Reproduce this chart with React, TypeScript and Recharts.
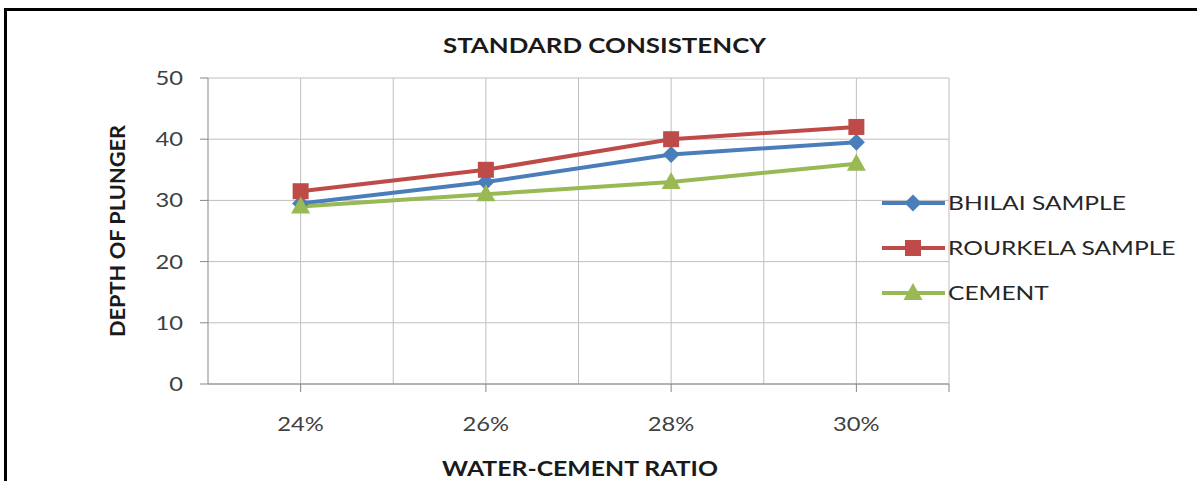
import React from 'react';
import { LineChart, Line, XAxis, YAxis, CartesianGrid, Legend } from 'recharts';

const categories = ['24%', '26%', '28%', '30%'];
const categoryPositions = [1, 3, 5, 7];
const bhilai = [29.5, 33, 37.5, 39.5];
const rourkela = [31.5, 35, 40, 42];
const cement = [29, 31, 33, 36];
const seriesNames = ['BHILAI SAMPLE', 'ROURKELA SAMPLE', 'CEMENT'];
const yTicks = [0, 10, 20, 30, 40, 50];
const xTicks = [1, 3, 5, 7, 8];
const xGrid = [1, 2, 3, 4, 5, 6, 7, 8];
const chartTitle = 'STANDARD CONSISTENCY';
const xTitle = 'WATER-CEMENT RATIO';
const yTitle = 'DEPTH OF PLUNGER';

const data = categories.map((c, i) => ({
  pos: categoryPositions[i],
  label: c,
  bhilai: bhilai[i],
  rourkela: rourkela[i],
  cement: cement[i],
}));

const COLORS = { bhilai: '#4a7ebb', rourkela: '#be4b48', cement: '#98b954' };
const FONT = 'Lato, "Open Sans", sans-serif';
const SX = 1.25;

const diamond = (cx: number, cy: number, r = 8.5) =>
  `M${cx},${cy - r}L${cx + r},${cy}L${cx},${cy + r}L${cx - r},${cy}Z`;
const square = (cx: number, cy: number, r = 8) =>
  `M${cx - r},${cy - r}H${cx + r}V${cy + r}H${cx - r}Z`;
const triangle = (cx: number, cy: number) =>
  `M${cx},${cy - 10}L${cx + 9.5},${cy + 7}L${cx - 9.5},${cy + 7}Z`;

const makeDot = (shape: (cx: number, cy: number) => string, color: string, name: string) =>
  (props: any) => {
    const { cx, cy, index } = props;
    if (cx == null || cy == null) return <g key={`${name}-${index}`} />;
    return <path key={`${name}-${index}`} d={shape(cx, cy)} fill={color} stroke="none" />;
  };

const labelFor = (v: number) => {
  const i = categoryPositions.indexOf(v);
  return i >= 0 ? categories[i] : '';
};

const XTick = (props: any) => {
  const { x, y, payload } = props;
  const txt = labelFor(payload.value);
  return (
    <g transform={`translate(${x},${y + 37})`}>
      <text transform={`scale(${SX},1)`} textAnchor="middle" fontFamily={FONT} fontSize={19} fill="#404040">
        {txt}
      </text>
    </g>
  );
};

const YTick = (props: any) => {
  const { x, y, payload } = props;
  return (
    <g transform={`translate(${x},${y + 7})`}>
      <text transform={`scale(${SX},1)`} textAnchor="end" fontFamily={FONT} fontSize={19} fill="#404040">
        {payload.value}
      </text>
    </g>
  );
};

const legendItems = [
  { name: seriesNames[0], color: COLORS.bhilai, shape: diamond },
  { name: seriesNames[1], color: COLORS.rourkela, shape: square },
  { name: seriesNames[2], color: COLORS.cement, shape: triangle },
];

const LegendContent = () => (
  <svg width={316} height={140} style={{ display: 'block', overflow: 'visible' }}>
    {legendItems.map((it, i) => {
      const cy = 23 + i * 45;
      return (
        <g key={it.name}>
          <line x1={2} y1={cy} x2={65} y2={cy} stroke={it.color} strokeWidth={4} />
          <path d={it.shape(33, cy)} fill={it.color} />
          <g transform={`translate(68,${cy + 7})`}>
            <text transform={`scale(1.26,1)`} fontFamily={FONT} fontSize={19.5} fill="#262626">
              {it.name}
            </text>
          </g>
        </g>
      );
    })}
  </svg>
);

const gridGen = (props: any) => {
  const s = props?.xAxis?.scale;
  const off = props?.offset ?? { left: 208, width: 741 };
  return xGrid.map((v) => (typeof s === 'function' ? s(v) : off.left + (v / 8) * off.width));
};

export default function App() {
  return (
    <div style={{ position: 'absolute', left: 0, top: 0, width: 1197, height: 481, overflow: 'hidden', background: '#fff' }}>
      <div
        style={{
          position: 'absolute',
          left: 4,
          top: 8,
          width: 1300,
          height: 600,
          border: '3px solid #000',
          boxSizing: 'border-box',
        }}
      />
      <div style={{ position: 'absolute', left: 0, top: 0 }}>
        <LineChart width={1197} height={481} data={data} margin={{ top: 78, right: 248, bottom: 37, left: 148 }}>
          <CartesianGrid stroke="#bfbfbf" strokeWidth={1} verticalCoordinatesGenerator={gridGen} />
          <XAxis
            dataKey="pos"
            type="number"
            domain={[0, 8]}
            ticks={xTicks}
            interval={0}
            height={60}
            axisLine={{ stroke: '#868686' }}
            tickLine={{ stroke: '#868686' }}
            tickSize={8}
            tickMargin={2}
            tick={<XTick />}
            label={{
              content: () => (
                <text
                  x={442}
                  y={476}
                  textLength={276}
                  lengthAdjust="spacingAndGlyphs"
                  fontFamily={FONT}
                  fontWeight={700}
                  fontSize={21}
                  fill="#1a1a1a"
                >
                  {xTitle}
                </text>
              ),
            }}
          />
          <YAxis
            type="number"
            domain={[0, 50]}
            ticks={yTicks}
            interval={0}
            width={60}
            axisLine={{ stroke: '#868686' }}
            tickLine={{ stroke: '#868686' }}
            tickSize={8}
            tickMargin={17}
            tick={<YTick />}
            label={{
              content: () => (
                <text
                  x={118}
                  y={231}
                  transform="rotate(-90,118,231)"
                  textAnchor="middle"
                  fontFamily={FONT}
                  fontWeight={700}
                  fontSize={21}
                  fill="#1a1a1a"
                >
                  <tspan x={118} y={238} textLength={212} lengthAdjust="spacingAndGlyphs">{yTitle}</tspan>
                </text>
              ),
            }}
          />
          <Legend
            layout="vertical"
            align="center"
            verticalAlign="middle"
            content={<LegendContent />}
            wrapperStyle={{ position: 'absolute', left: 880, top: 180, width: 316, height: 140 }}
          />
          <Line
            dataKey="bhilai"
            name={seriesNames[0]}
            stroke={COLORS.bhilai}
            strokeWidth={4}
            dot={makeDot(diamond, COLORS.bhilai, 'b')}
            isAnimationActive={false}
          />
          <Line
            dataKey="rourkela"
            name={seriesNames[1]}
            stroke={COLORS.rourkela}
            strokeWidth={4}
            dot={makeDot(square, COLORS.rourkela, 'r')}
            isAnimationActive={false}
          />
          <Line
            dataKey="cement"
            name={seriesNames[2]}
            stroke={COLORS.cement}
            strokeWidth={4}
            dot={makeDot(triangle, COLORS.cement, 'c')}
            isAnimationActive={false}
          />
          <text
            x={443}
            y={53}
            textLength={323}
            lengthAdjust="spacingAndGlyphs"
            fontFamily={FONT}
            fontWeight={700}
            fontSize={21}
            fill="#1a1a1a"
          >
            {chartTitle}
          </text>
        </LineChart>
      </div>
    </div>
  );
}
